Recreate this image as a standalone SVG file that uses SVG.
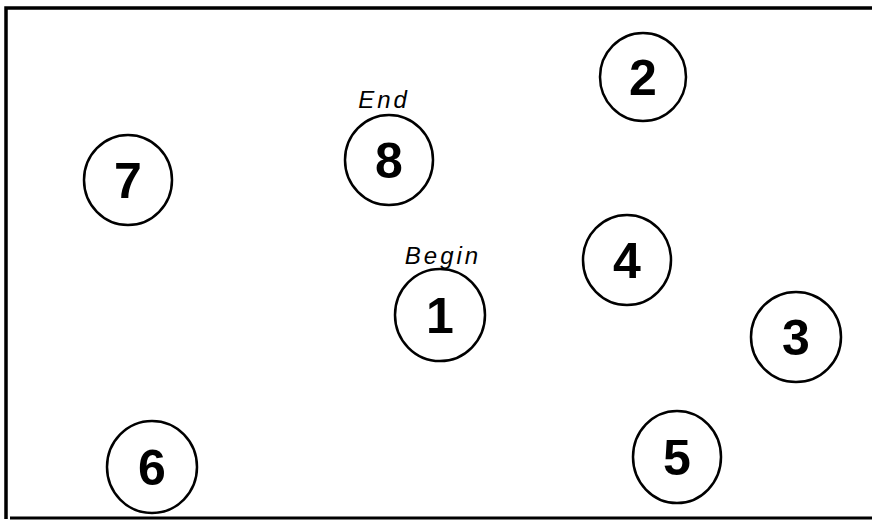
<svg xmlns="http://www.w3.org/2000/svg" width="872" height="527" viewBox="0 0 872 527">
<style>
.n{fill:none;stroke:#000;stroke-width:2.5}
.d{font-family:"Liberation Sans",Arial,sans-serif;font-weight:bold;font-size:50px;text-anchor:middle;fill:#000}
.l{font-family:"Liberation Sans",Arial,sans-serif;font-style:italic;font-size:24px;text-anchor:middle;fill:#000;letter-spacing:3px}
</style>
<rect width="872" height="527" fill="#fff"/>
<g id="frame" fill="none" stroke="#000">
<path d="M6,519 V8 H872" stroke-width="3.5"/>
<path d="M10,518 H872" stroke-width="3"/>
</g>
<g id="connectors"></g>
<g id="n2"><ellipse class="n" cx="643" cy="77" rx="43" ry="44"/><text class="d" x="643" y="95">2</text></g>
<g id="n8"><ellipse class="n" cx="389" cy="160" rx="44" ry="45"/><text class="d" x="389" y="178">8</text><text class="l" x="384" y="108">End</text></g>
<g id="n7"><ellipse class="n" cx="128" cy="180" rx="44" ry="45"/><text class="d" x="128" y="198">7</text></g>
<g id="n4"><ellipse class="n" cx="627" cy="260" rx="44" ry="45"/><text class="d" x="627" y="278">4</text></g>
<g id="n1"><ellipse class="n" cx="440" cy="315" rx="45" ry="46"/><text class="d" x="440" y="333">1</text><text class="l" x="443" y="264">Begin</text></g>
<g id="n3"><ellipse class="n" cx="796" cy="337" rx="45" ry="45"/><text class="d" x="796" y="355">3</text></g>
<g id="n6"><ellipse class="n" cx="152" cy="467" rx="45" ry="46"/><text class="d" x="152" y="485">6</text></g>
<g id="n5"><ellipse class="n" cx="677" cy="457" rx="44" ry="46"/><text class="d" x="677" y="475">5</text></g>
</svg>
